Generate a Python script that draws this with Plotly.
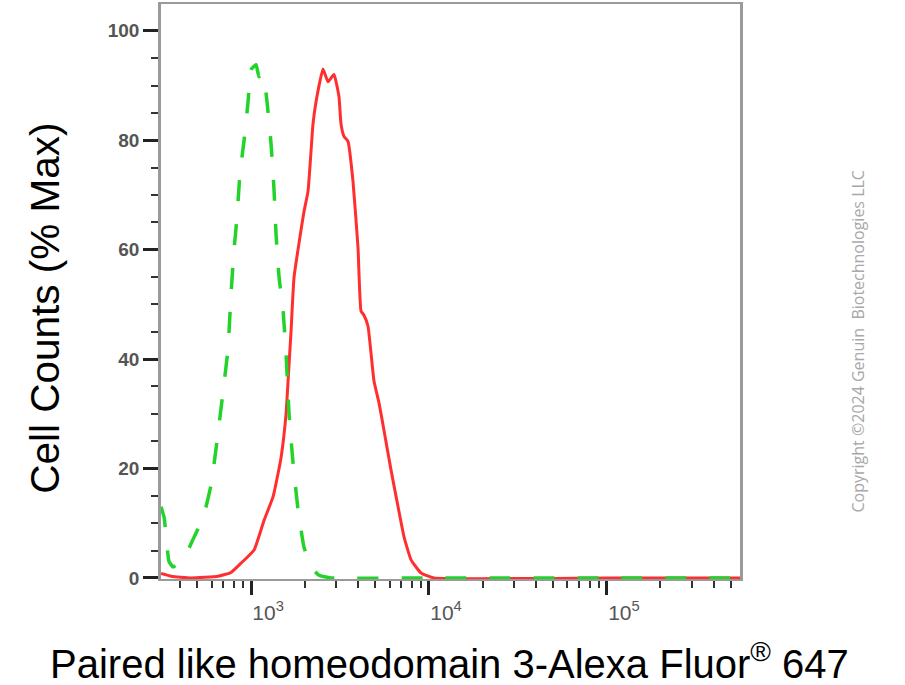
import plotly.graph_objects as go

# Fluorescence intensity (x) and % max cell counts (y)
iso_x = [312, 325, 346, 365, 420, 479, 538, 596, 644, 696, 743, 772, 803, 834, 867,
         914, 962, 1000, 1067, 1109, 1168, 1230, 1295, 1346, 1381, 1437, 1513, 1573,
         1635, 1722, 1837, 1985, 2174, 2410, 2814, 10000, 100000, 560000]
iso_y = [13, 11, 3, 2, 3.6, 7.5, 11, 17, 25, 34, 42, 52, 60, 66, 74,
         80, 87, 92.9, 93.8, 91.6, 92.2, 87, 79.4, 71, 63, 55, 49, 41,
         30, 21, 12.5, 5.6, 2, 0.5, 0, 0, 0, 0]

pos_x = [312, 356, 460, 653, 772, 879, 1040, 1183, 1329, 1437, 1475, 1573, 1635, 1678,
         1745, 1986, 2091, 2230, 2318, 2537, 2709, 2925, 3120, 3203, 3328, 3506, 3741,
         3993, 4150, 4313, 4543, 4909, 5236, 5585, 6121, 6702, 7241, 7931, 9021, 10670,
         100000, 560000]
pos_y = [0.8, 0.3, 0, 0.3, 1.0, 2.7, 5.1, 10.5, 14.8, 20, 22, 30, 39, 45,
         55, 67, 70.7, 83, 87, 93, 90.7, 92, 88, 83, 80.7, 79.8, 72.5,
         60.3, 48.8, 48, 46, 36, 32, 27, 19.7, 13, 7.5, 3.3, 0.9, 0,
         0, 0]

x_major = [1000, 10000, 100000]
x_major_text = ["10<sup>3</sup>", "10<sup>4</sup>", "10<sup>5</sup>"]
x_minor = [m * 10 ** e for e in range(2, 6) for m in range(2, 10)]
y_major = [0, 20, 40, 60, 80, 100]

fig = go.Figure()
fig.add_trace(go.Scatter(x=pos_x, y=pos_y, mode="lines",
                         line=dict(color="#ff2f2f", width=3, shape="spline", smoothing=0.4)))
fig.add_trace(go.Scatter(x=iso_x, y=iso_y, mode="lines",
                         line=dict(color="#22d42a", width=3.5, dash="21px,23px",
                                   shape="spline", smoothing=0.4)))

fig.update_layout(
    width=905, height=685,
    margin=dict(l=161, r=165, t=2, b=106),
    paper_bgcolor="white", plot_bgcolor="white",
    showlegend=False,
    font=dict(family="Arial, Liberation Sans", color="#000"),
)
fig.update_xaxes(
    type="log", range=[2.494, 5.748],
    tickmode="array", tickvals=x_major, ticktext=x_major_text,
    ticks="outside", ticklen=14, tickwidth=3, tickcolor="#222",
    tickfont=dict(size=21, color="#555", family="Liberation Sans"),
    ticklabelshift=17,
    minor=dict(tickmode="array", tickvals=x_minor, ticks="outside", ticklen=7,
               tickwidth=2, tickcolor="#333", showgrid=False),
    showline=True, linecolor="#9a9a9a", linewidth=2, mirror=True,
    showgrid=False, zeroline=False,
)
fig.update_yaxes(
    range=[-0.2, 104.9],
    tickmode="array", tickvals=y_major,
    ticks="outside", ticklen=15, tickwidth=3, tickcolor="#222",
    tickfont=dict(size=19, color="#555", family="Liberation Sans", weight="bold"),
    minor=dict(dtick=5, ticks="outside", ticklen=7, tickwidth=2, tickcolor="#333",
               showgrid=False),
    showline=True, linecolor="#9a9a9a", linewidth=2.5, mirror=True,
    showgrid=False, zeroline=False,
)

fig.add_annotation(text="Cell Counts (% Max)", xref="paper", yref="paper",
                   x=-0.2003, y=0.470, textangle=-90, showarrow=False,
                   xanchor="center", yanchor="middle",
                   font=dict(size=40.5, color="#000", family="Liberation Sans"))
fig.add_annotation(text="Paired like homeodomain 3-Alexa Fluor<sup>®</sup> 647",
                   xref="paper", yref="paper", x=0.499, y=-0.142, showarrow=False,
                   xanchor="center", yanchor="middle",
                   font=dict(size=40, color="#000", family="Liberation Sans"))
fig.add_annotation(text="Copyright ©2024 Genuin  Biotechnologies LLC",
                   xref="paper", yref="paper", x=1.2038, y=0.413, textangle=-90,
                   showarrow=False, xanchor="center", yanchor="middle",
                   font=dict(size=16, color="#a8a8a8", family="Open Sans"))

fig.write_html("out.html", config={"displayModeBar": False},
               post_script="document.body.style.margin='0px';")
